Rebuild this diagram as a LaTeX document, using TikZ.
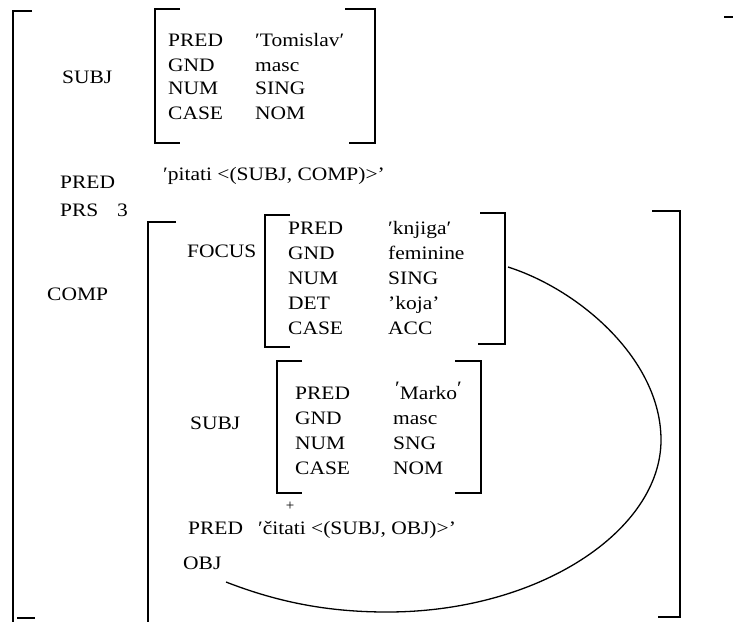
\documentclass[tikz,border=0pt]{standalone}
\usepackage{fontspec}
\setmainfont{Liberation Serif}
\newcommand{\sx}[1]{\scalebox{1.13}[1]{#1}}
\begin{document}
\begin{tikzpicture}[x=1pt,y=-1pt,
  txt/.style={anchor=base west,inner sep=0pt,font=\fontsize{19}{22}\selectfont},
  brk/.style={line width=1.5pt},
  arc/.style={line width=1.3pt}]
\useasboundingbox (0,0) rectangle (733,622);
% outer f-structure brackets
\draw[brk] (32,11) -- (13,11) -- (13,622);
\draw[brk] (17,618) -- (35,618);
\draw[brk] (724,17) -- (733,17);
% top SUBJ
\node[txt] (subj1) at (62,83) {\sx{SUBJ}};
\draw[brk] (180,9) -- (155,9) -- (155,143) -- (180,143);
\draw[brk] (345,9) -- (375,9) -- (375,143) -- (349,143);
\node[txt] (t1a) at (168,46) {\sx{PRED}};
\node[txt] (t1b) at (168,71) {\sx{GND}};
\node[txt] (t1c) at (168,94) {\sx{NUM}};
\node[txt] (t1d) at (168,119) {\sx{CASE}};
\node[txt] (v1a) at (255,46) {\sx{′Tomislav′}};
\node[txt] (v1b) at (255,71) {\sx{masc}};
\node[txt] (v1c) at (255,94) {\sx{SING}};
\node[txt] (v1d) at (255,119) {\sx{NOM}};
% pred
\node[txt] (pitati) at (163,180) {\sx{′pitati <(SUBJ, COMP)>’}};
\node[txt] (pred1) at (60,188) {\sx{PRED}};
\node[txt] (prs) at (60,216) {\sx{PRS}};
\node[txt] (prs3) at (117,216) {\sx{3}};
\node[txt] (comp) at (47,300) {\sx{COMP}};
% COMP brackets
\draw[brk] (176,222) -- (148,222) -- (148,622);
\draw[brk] (652,211) -- (680,211) -- (680,617) -- (658,617);
% FOCUS
\node[txt] (focus) at (187,257) {\sx{FOCUS}};
\draw[brk] (290,215) -- (265,215) -- (265,347) -- (290,347);
\draw[brk] (480,213) -- (505,213) -- (505,344) -- (478,344);
\node[txt] (f1) at (288,234) {\sx{PRED}};
\node[txt] (f2) at (288,259) {\sx{GND}};
\node[txt] (f3) at (288,284) {\sx{NUM}};
\node[txt] (f4) at (288,309) {\sx{DET}};
\node[txt] (f5) at (288,334) {\sx{CASE}};
\node[txt] (g1) at (388,234) {\sx{′knjiga′}};
\node[txt] (g2) at (388,259) {\sx{feminine}};
\node[txt] (g3) at (388,284) {\sx{SING}};
\node[txt] (g4) at (388,309) {\sx{’koja’}};
\node[txt] (g5) at (388,334) {\sx{ACC}};
% inner SUBJ
\node[txt] (subj2) at (190,429) {\sx{SUBJ}};
\draw[brk] (302,361) -- (277,361) -- (277,493) -- (302,493);
\draw[brk] (455,361) -- (481,361) -- (481,493) -- (455,493);
\node[txt] (m1) at (295,399) {\sx{PRED}};
\node[txt] (m2) at (295,424) {\sx{GND}};
\node[txt] (m3) at (295,449) {\sx{NUM}};
\node[txt] (m4) at (295,474) {\sx{CASE}};
\node[txt] (n1) at (395,399) {\sx{\raisebox{0.55ex}{′}Marko\raisebox{0.55ex}{′}}};
\node[txt] (n2) at (393,424) {\sx{masc}};
\node[txt] (n3) at (393,449) {\sx{SNG}};
\node[txt] (n4) at (393,474) {\sx{NOM}};
\node[inner sep=0pt,font=\fontsize{15}{17}\selectfont] (plus) at (290,506) {+};
\node[txt] (pred2) at (188,534) {\sx{PRED}};
\node[txt] (citati) at (258,534) {\sx{′čitati <(SUBJ, OBJ)>’}};
\node[txt] (obj) at (183,569) {\sx{OBJ}};
% binding curve
\coordinate (cs) at (226,582);
\coordinate (ce) at (508,267);
\draw[arc] (cs) .. controls (280,603) and (330,612) .. (387,612)
  .. controls (540,612) and (661,530) .. (661,440)
  .. controls (661,360) and (580,290) .. (ce);
\end{tikzpicture}
\end{document}
